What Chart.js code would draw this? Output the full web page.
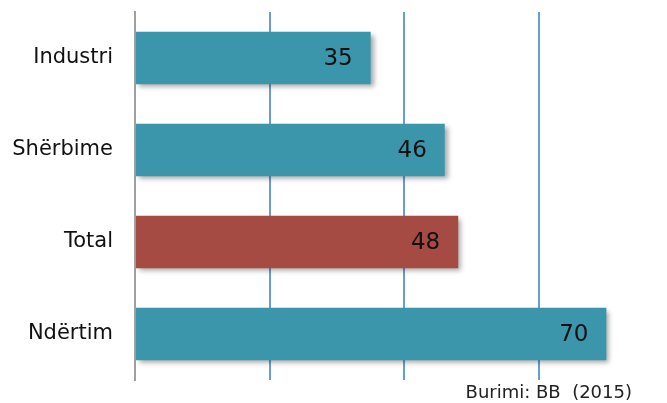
<!DOCTYPE html>
<html>
<head>
<meta charset="utf-8">
<script src="https://cdn.jsdelivr.net/npm/chart.js@4.4.1/dist/chart.umd.min.js"></script>
<style>
html,body{margin:0;padding:0;background:#fff;}
#wrap{width:667px;height:403px;position:relative;}
</style>
</head>
<body>
<div id="wrap"><canvas id="c" width="667" height="403"></canvas></div>
<script>
const categories = ["Industri", "Shërbime", "Total", "Ndërtim"];
const values = [35, 46, 48, 70];
const barColors = ["#3c96ab", "#3c96ab", "#a64b43", "#3c96ab"];
const gridValues = [20, 40, 60];
const sourceText = "Burimi: BB  (2015)";

const FONT = "'DejaVu Sans', sans-serif";

const shadowPlugin = {
  id: 'shadow',
  beforeDatasetsDraw(chart) {
    const ctx = chart.ctx;
    ctx.save();
    ctx.shadowColor = 'rgba(0,0,0,0.35)';
    ctx.shadowBlur = 5;
    ctx.shadowOffsetX = 3;
    ctx.shadowOffsetY = 3;
  },
  afterDatasetsDraw(chart) {
    chart.ctx.restore();
    const ctx = chart.ctx;
    const meta = chart.getDatasetMeta(0);
    ctx.save();
    ctx.font = "23px " + FONT;
    ctx.fillStyle = "#111";
    ctx.textAlign = "right";
    ctx.textBaseline = "middle";
    meta.data.forEach((bar, i) => {
      ctx.fillText(String(values[i]), bar.x - 18, bar.y + 1);
    });
    ctx.font = "18px " + FONT;
    ctx.textAlign = "right";
    ctx.textBaseline = "middle";
    ctx.fillStyle = "#222";
    ctx.fillText(sourceText, 632, 393);
    ctx.restore();
  }
};

new Chart(document.getElementById('c'), {
  type: 'bar',
  data: {
    labels: categories,
    datasets: [{
      data: values,
      backgroundColor: barColors,
      borderWidth: 0,
      categoryPercentage: 1,
      barPercentage: 0.57
    }]
  },
  options: {
    indexAxis: 'y',
    responsive: false,
    animation: false,
    layout: { padding: { top: 12, right: 0, bottom: 23, left: 0 } },
    plugins: { legend: { display: false }, tooltip: { enabled: false }, title: { display: false } },
    scales: {
      x: {
        min: 0, max: 79,
        afterFit: (s) => { s.height = 0; },
        ticks: { display: false, stepSize: 20 },
        border: { display: false },
        grid: {
          drawTicks: false,
          lineWidth: 2,
          color: (c) => gridValues.includes(c.tick && c.tick.value) ? '#6b9bd2' : 'rgba(0,0,0,0)'
        }
      },
      y: {
        afterFit: (s) => { s.width = 135; s.paddingTop = 0; s.paddingBottom = 0; },
        ticks: { color: '#111', font: { family: FONT, size: 21 }, padding: 22 },
        grid: { display: false, drawTicks: false },
        border: { display: true, color: '#a0a0a0', width: 2 }
      }
    }
  },
  plugins: [shadowPlugin]
});
</script>
</body>
</html>
